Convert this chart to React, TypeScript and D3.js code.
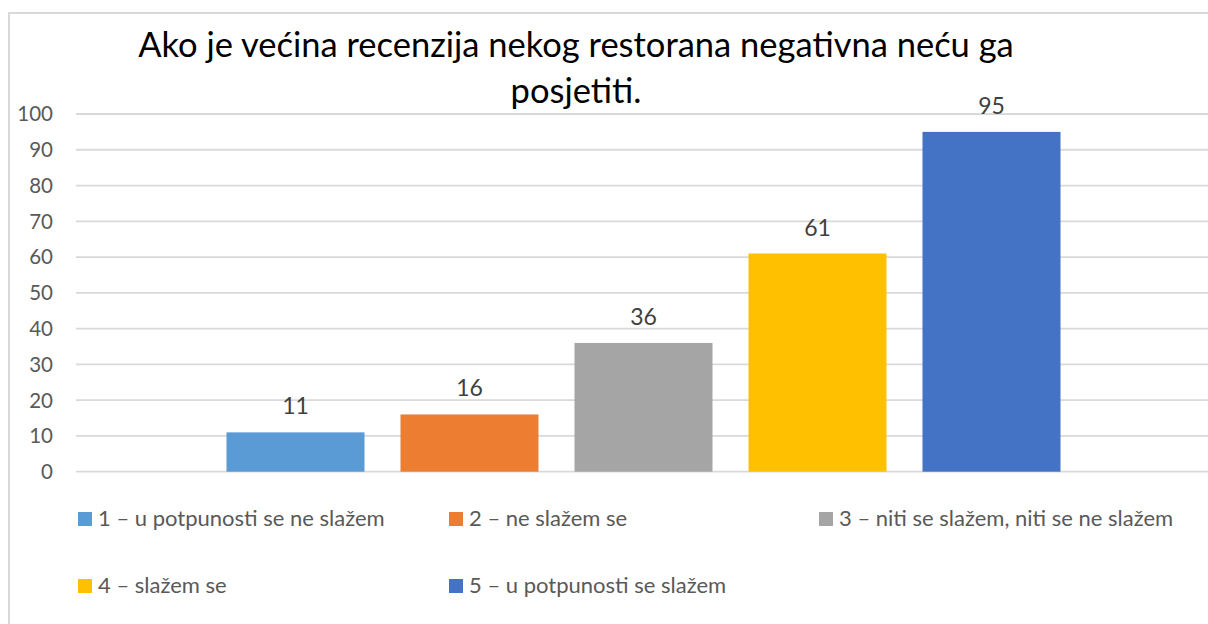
import React from "react";
import * as d3 from "d3";

const titleLines = ["Ako je većina recenzija nekog restorana negativna neću ga", "posjetiti."];
const seriesNames = [
  "1 – u potpunosti se ne slažem",
  "2 – ne slažem se",
  "3 – niti se slažem, niti se ne slažem",
  "4 – slažem se",
  "5 – u potpunosti se slažem",
];
const seriesValues = [11, 16, 36, 61, 95];
const seriesColors = ["#5B9BD5", "#ED7D31", "#A5A5A5", "#FFC000", "#4472C4"];
const yTicks = [0, 10, 20, 30, 40, 50, 60, 70, 80, 90, 100];

const W = 1208;
const H = 624;
const plot = { left: 76, right: 1211, top: 114, bottom: 471.7 };
const FONT = "Lato, 'Liberation Sans', Arial, sans-serif";

export default function App() {
  const y = d3.scaleLinear().domain([0, 100]).range([plot.bottom, plot.top]);
  const x = d3
    .scaleBand<string>()
    .domain(seriesNames)
    .range([plot.left, plot.right])
    .paddingInner(0.2069)
    .paddingOuter(0.865);

  const legendRows = [
    [0, 1, 2],
    [3, 4],
  ];
  const legendX = [78, 449, 819];
  const legendY = [512, 579];

  return (
    <svg
      width={W}
      height={H}
      style={{ position: "absolute", left: 0, top: 0, background: "#fff" }}
      fontFamily={FONT}
    >
      <rect x={0} y={0} width={W} height={H} fill="#fff" />
      <rect x={9} y={13} width={1400} height={800} fill="none" stroke="#d9d9d9" strokeWidth={2} />

      {titleLines.map((t, i) => (
        <text key={i} x={576} y={56.5 + i * 46} textAnchor="middle" fontSize={34.5} fill="#000">
          {t}
        </text>
      ))}

      {yTicks.map((t) => (
        <g key={t}>
          <line x1={plot.left} x2={plot.right} y1={y(t)} y2={y(t)} stroke="#d9d9d9" strokeWidth={1.8} />
          <text x={53} y={y(t)} dy="0.36em" textAnchor="end" fontSize={20.5} fill="#595959">
            {t}
          </text>
        </g>
      ))}

      {seriesNames.map((s, i) => (
        <g key={s}>
          <rect
            x={x(s)}
            y={y(seriesValues[i])}
            width={x.bandwidth()}
            height={y(0) - y(seriesValues[i])}
            fill={seriesColors[i]}
          />
          <text
            x={(x(s) as number) + x.bandwidth() / 2}
            y={y(seriesValues[i]) - 18}
            textAnchor="middle"
            fontSize={23}
            fill="#404040"
          >
            {seriesValues[i]}
          </text>
        </g>
      ))}

      {legendRows.map((row, r) =>
        row.map((idx, c) => (
          <g key={idx}>
            <rect x={legendX[c]} y={legendY[r]} width={14} height={14} fill={seriesColors[idx]} />
            <text x={legendX[c] + 20} y={legendY[r] + 13.5} fontSize={22} fill="#595959">
              {seriesNames[idx]}
            </text>
          </g>
        ))
      )}
    </svg>
  );
}
